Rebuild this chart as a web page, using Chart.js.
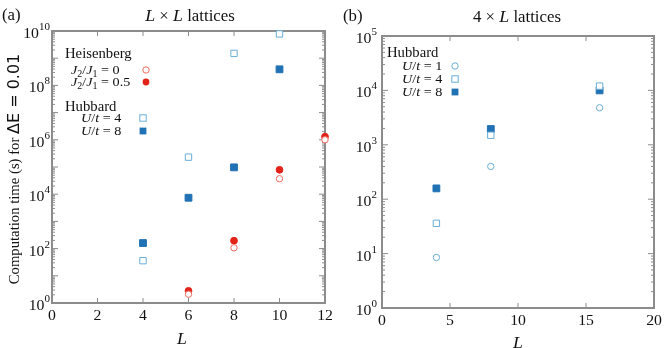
<!DOCTYPE html>
<html>
<head>
<meta charset="utf-8">
<script src="https://cdn.jsdelivr.net/npm/chart.js@4.4.1/dist/chart.umd.min.js"></script>
<style>
html, body { margin: 0; padding: 0; background: #fff; }
#wrap { position: relative; width: 664px; height: 348px; }
canvas { position: absolute; top: 0; }
</style>
</head>
<body>
<div id="wrap">
  <canvas id="panelA" width="332" height="348" style="left:0"></canvas>
  <canvas id="panelB" width="332" height="348" style="left:332px"></canvas>
</div>
<script>
// ========== DATA ==========
// (a) L x L lattices
const sizesLL = [4, 6, 8, 10, 12];
const heisJ0  = [null, 2.1, 107, 3.7e4, 1.0e6];
const heisJ05 = [null, 2.8, 195, 7.9e4, 1.3e6];
const hubLLU4 = [36, 2.3e5, 1.5e9, 7.8e9, null];
const hubLLU8 = [160, 7.4e3, 9.7e4, 3.9e8, null];

// (b) 4 x L lattices
const sizes4L = [4, 8, 16];
const hub4LU1 = [8.5, 400, 4.8e3];
const hub4LU4 = [36, 1.5e3, 1.2e4];
const hub4LU8 = [158, 1.95e3, 1.0e4];

// tick labels
const xTicksA = [0, 2, 4, 6, 8, 10, 12];
const yExpLabelsA = [0, 2, 4, 6, 8, 10];
const xTicksB = [0, 5, 10, 15, 20];
const yExpLabelsB = [0, 1, 2, 3, 4, 5];

// ========== STYLE ==========
const RED = '#e2231a';
const RED_LIGHT = '#ee6a5f';
const BLUE_LIGHT = '#6aaed6';
const BLUE_DARK = '#2171b5';
const FRAME = '#8c8c8c';
const SERIF = "'Liberation Serif', 'DejaVu Serif', serif";
const SX = 1.05; // stretch serif text a bit, the original font is wider

function toPoints(xs, ys) {
    return xs.map((x, i) => ({ x: x, y: ys[i] })).filter(p => p.y !== null);
}

// ========== TEXT HELPERS ==========
// runs: [text, fontSize, italic, dy, family]
function runsWidth(ctx, runs) {
    let w = 0;
    runs.forEach(r => {
        ctx.font = (r[2] ? 'italic ' : '') + r[1] + 'px ' + (r[4] || SERIF);
        w += ctx.measureText(r[0]).width * (r[4] ? 1 : SX);
    });
    return w;
}

function drawRuns(ctx, runs, x, y, align) {
    const w = runsWidth(ctx, runs);
    let cx = align === 'right' ? x - w : (align === 'center' ? x - w / 2 : x);
    ctx.textBaseline = 'alphabetic';
    ctx.textAlign = 'left';
    runs.forEach(r => {
        ctx.font = (r[2] ? 'italic ' : '') + r[1] + 'px ' + (r[4] || SERIF);
        const sx = r[4] ? 1 : SX;
        ctx.save();
        ctx.translate(cx, y + (r[3] || 0));
        ctx.scale(sx, 1);
        ctx.fillText(r[0], 0, 0);
        ctx.restore();
        cx += ctx.measureText(r[0]).width * sx;
    });
}

function ratio(num, val, size) {
    return [['U', size, true], ['/', size], ['t', size, true], [' = ' + val, size]];
}

function jratio(val, size) {
    return [['J', size, true], ['2', 9.5, false, 3], ['/', size], ['J', size, true], ['1', 9.5, false, 3], [' = ' + val, size]];
}

// ========== MARKERS (legend) ==========
function marker(ctx, kind, color, x, y) {
    ctx.save();
    ctx.lineWidth = 1;
    ctx.strokeStyle = color;
    ctx.fillStyle = color;
    if (kind === 'openCircle') {
        ctx.fillStyle = '#fff';
        ctx.beginPath(); ctx.arc(x, y, 3.2, 0, Math.PI * 2); ctx.fill(); ctx.stroke();
    } else if (kind === 'circle') {
        ctx.beginPath(); ctx.arc(x, y, 3.4, 0, Math.PI * 2); ctx.fill();
    } else if (kind === 'openRect') {
        ctx.fillStyle = '#fff';
        ctx.fillRect(x - 3.2, y - 3.2, 6.4, 6.4);
        ctx.strokeRect(x - 3.2, y - 3.2, 6.4, 6.4);
    } else {
        ctx.fillRect(x - 3.4, y - 3.4, 6.8, 6.8);
    }
    ctx.restore();
}

// ========== AXES DECORATION ==========
function line(ctx, x1, y1, x2, y2) {
    ctx.beginPath(); ctx.moveTo(x1, y1); ctx.lineTo(x2, y2); ctx.stroke();
}

function decoPlugin(cfg) {
    return {
        id: 'deco',
        beforeDatasetsDraw(chart) {
            const ctx = chart.ctx;
            const a = chart.chartArea;
            const xs = chart.scales.x, ys = chart.scales.y;
            ctx.save();
            ctx.strokeStyle = FRAME;
            ctx.lineWidth = 1;
            // x ticks
            cfg.xTicks.forEach(v => {
                const px = xs.getPixelForValue(v);
                line(ctx, px, a.bottom, px, a.bottom - 5);
                line(ctx, px, a.top, px, a.top + 5);
            });
            // y ticks, decades + minor
            for (let e = cfg.yMinExp; e <= cfg.yMaxExp; e++) {
                const py = ys.getPixelForValue(Math.pow(10, e));
                line(ctx, a.left, py, a.left + 6, py);
                line(ctx, a.right, py, a.right - 6, py);
                if (e < cfg.yMaxExp) {
                    for (let m = 2; m <= 9; m++) {
                        const pm = ys.getPixelForValue(m * Math.pow(10, e));
                        line(ctx, a.left, pm, a.left + 3, pm);
                        line(ctx, a.right, pm, a.right - 3, pm);
                    }
                }
            }
            ctx.lineWidth = 2;
            ctx.strokeRect(a.left, a.top, a.right - a.left, a.bottom - a.top);
            ctx.restore();
        },
        afterDraw(chart) {
            const ctx = chart.ctx;
            const a = chart.chartArea;
            const xs = chart.scales.x, ys = chart.scales.y;
            ctx.save();
            ctx.fillStyle = '#111';
            // tick labels
            cfg.xTicks.forEach(v => {
                drawRuns(ctx, [[String(v), 15]], xs.getPixelForValue(v), a.bottom + 17, 'center');
            });
            cfg.yLabels.forEach(e => {
                const py = ys.getPixelForValue(Math.pow(10, e));
                const expW = runsWidth(ctx, [[String(e), 10.5]]);
                drawRuns(ctx, [['10', 15]], a.left - cfg.yGap - expW, py + 7, 'right');
                drawRuns(ctx, [[String(e), 10.5]], a.left - cfg.yGap - expW, py - 1, 'left');
            });
            // axis title L
            drawRuns(ctx, [['L', 17, true]], cfg.xTitle[0], cfg.xTitle[1], 'center');
            // panel tag and title
            drawRuns(ctx, [[cfg.tag, 16]], cfg.tagPos[0], cfg.tagPos[1], 'left');
            drawRuns(ctx, cfg.title, cfg.titlePos[0], cfg.titlePos[1], 'center');
            // legend
            cfg.legendText.forEach(t => drawRuns(ctx, t.runs, t.x, t.y, 'left'));
            cfg.legendMarks.forEach(m => marker(ctx, m.kind, m.color, m.x, m.y));
            if (cfg.yTitle) cfg.yTitle(ctx);
            ctx.restore();
        }
    };
}

function datasetsFrom(list) {
    return list.map(d => ({
        label: d.label,
        data: d.data,
        pointStyle: d.kind.indexOf('ircle') >= 0 ? 'circle' : 'rect',
        pointRadius: d.kind.indexOf('ircle') >= 0 ? (d.kind === 'circle' ? 3.4 : 3.2) : (d.kind === 'rect' ? 4.8 : 4.5),
        pointBorderWidth: 1,
        pointBackgroundColor: d.kind.indexOf('open') === 0 ? '#fff' : d.color,
        pointBorderColor: d.color,
        clip: false
    }));
}

function baseOptions(xMax, yMax, pad) {
    return {
        responsive: false,
        animation: false,
        layout: { padding: pad },
        plugins: { legend: { display: false }, tooltip: { enabled: false } },
        scales: {
            x: { type: 'linear', min: 0, max: xMax, display: false },
            y: { type: 'logarithmic', min: 1, max: yMax, display: false }
        }
    };
}

// ========== PANEL (a) ==========
new Chart(document.getElementById('panelA'), {
    type: 'scatter',
    data: {
        datasets: datasetsFrom([
            { label: 'J2/J1 = 0', data: toPoints(sizesLL, heisJ0), kind: 'openCircle', color: RED_LIGHT },
            { label: 'J2/J1 = 0.5', data: toPoints(sizesLL, heisJ05), kind: 'circle', color: RED },
            { label: 'U/t = 4', data: toPoints(sizesLL, hubLLU4), kind: 'openRect', color: BLUE_LIGHT },
            { label: 'U/t = 8', data: toPoints(sizesLL, hubLLU8), kind: 'rect', color: BLUE_DARK }
        ])
    },
    options: baseOptions(12, 1e10, { left: 52, right: 7, top: 31, bottom: 45 }),
    plugins: [decoPlugin({
        xTicks: xTicksA, yMinExp: 0, yMaxExp: 10, yLabels: yExpLabelsA, yGap: 2,
        xTitle: [182, 344],
        tag: '(a)', tagPos: [2, 20],
        title: [['L', 17, true], [' × ', 16], ['L', 17, true], [' lattices', 16]], titlePos: [190, 21],
        legendText: [
            { runs: [['Heisenberg', 14]], x: 65, y: 58 },
            { runs: jratio('0', 13.5), x: 71, y: 74 },
            { runs: jratio('0.5', 13.5), x: 71, y: 86 },
            { runs: [['Hubbard', 14]], x: 65, y: 111 },
            { runs: ratio('U', '4', 13.5), x: 81, y: 122 },
            { runs: ratio('U', '8', 13.5), x: 81, y: 135 }
        ],
        legendMarks: [
            { kind: 'openCircle', color: RED_LIGHT, x: 146, y: 70 },
            { kind: 'circle', color: RED, x: 146, y: 82 },
            { kind: 'openRect', color: BLUE_LIGHT, x: 143, y: 118 },
            { kind: 'rect', color: BLUE_DARK, x: 143, y: 131 }
        ],
        yTitle(ctx) {
            const runs = [['Computation time (s) for ', 14], ['ΔE = 0.01', 16, false, 0, "'DejaVu Sans', sans-serif"]];
            ctx.save();
            ctx.translate(19, 169);
            ctx.rotate(-Math.PI / 2);
            drawRuns(ctx, runs, 0, 0, 'center');
            ctx.restore();
        }
    })]
});

// ========== PANEL (b) ==========
new Chart(document.getElementById('panelB'), {
    type: 'scatter',
    data: {
        datasets: datasetsFrom([
            { label: 'U/t = 1', data: toPoints(sizes4L, hub4LU1), kind: 'openCircle', color: BLUE_LIGHT },
            { label: 'U/t = 4', data: toPoints(sizes4L, hub4LU4), kind: 'openRect', color: BLUE_LIGHT },
            { label: 'U/t = 8', data: toPoints(sizes4L, hub4LU8), kind: 'rect', color: BLUE_DARK }
        ])
    },
    options: baseOptions(20, 1e5, { left: 50, right: 10, top: 36, bottom: 40 }),
    plugins: [decoPlugin({
        xTicks: xTicksB, yMinExp: 0, yMaxExp: 5, yLabels: yExpLabelsB, yGap: 5,
        xTitle: [186, 348],
        tag: '(b)', tagPos: [11, 21],
        title: [['4 × ', 16], ['L', 17, true], [' lattices', 16]], titlePos: [185, 22],
        legendText: [
            { runs: [['Hubbard', 14]], x: 55, y: 57 },
            { runs: ratio('U', '1', 13.5), x: 70, y: 70 },
            { runs: ratio('U', '4', 13.5), x: 70, y: 83 },
            { runs: ratio('U', '8', 13.5), x: 70, y: 96 }
        ],
        legendMarks: [
            { kind: 'openCircle', color: BLUE_LIGHT, x: 123, y: 66 },
            { kind: 'openRect', color: BLUE_LIGHT, x: 123, y: 79 },
            { kind: 'rect', color: BLUE_DARK, x: 123, y: 92 }
        ]
    })]
});
</script>
</body>
</html>
